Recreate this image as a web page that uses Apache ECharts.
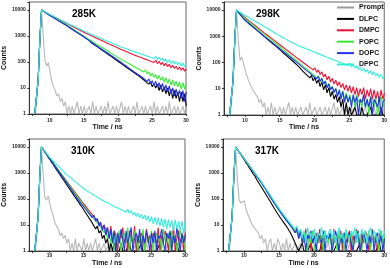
<!DOCTYPE html>
<html><head><meta charset="utf-8">
<script src="https://cdn.jsdelivr.net/npm/echarts@6/dist/echarts.min.js"></script>
<style>html,body{margin:0;padding:0;background:#fff}#c{width:390px;height:268px}</style>
</head><body><div id="c"></div>
<script>
// ---- data ----
const time = [7.8,8.05,8.3,8.55,8.8,9.05,9.3,9.55,9.8,10.05,10.3,10.55,10.8,11.05,11.3,11.55,11.8,12.05,12.3,12.55,12.8,13.05,13.3,13.55,13.8,14.05,14.3,14.55,14.8,15.05,15.3,15.55,15.8,16.05,16.3,16.55,16.8,17.05,17.3,17.55,17.8,18.05,18.3,18.55,18.8,19.05,19.3,19.55,19.8,20.05,20.3,20.55,20.8,21.05,21.3,21.55,21.8,22.05,22.3,22.55,22.8,23.05,23.3,23.55,23.8,24.05,24.3,24.55,24.8,25.05,25.3,25.55,25.8,26.05,26.3,26.55,26.8,27.05,27.3,27.55,27.8,28.05,28.3,28.55,28.8,29.05,29.3,29.55,29.8,30.05];
const seriesNames = ['Prompt','DLPC','DMPC','POPC','DOPC','DPPC'];
const temps = ['285K','298K','310K','317K'];
const xLabelValues = [10,15,20,25,30];
const xTickValues = [7.5,10,12.5,15,17.5,20,22.5,25,27.5,30];

// 285K
const k285_prompt = [1,2,30,1200,9500, 900,110,70,95,40,18,11,8,5,6,3,4,2,3,1,2, 1,2,1,1,3,1,2,1,2,1, 1,2,1,3,1,2,1,1,2,1, 2,1,3,1,1,2,1,2,1,1, 3,1,2,1,2,1,1,2,1,3, 1,1,2,1,2,1,1,2,1,3, 1,2,1,1,2,1,2,1,3,1, 1,2,1,2,1,1,2,1,2];
const k285_dlpc = [1,1,20,700,9800, 8950,8180,7220,6650,5960,5560,4950,4620,4110,3840,3420,3200,2840,2660,2360,2200,1940,1800,1590,1480,1300,1220,1060,1000, 850,820,690,670,560,545,455,440,370,360,300,292,244,238,198,192,160,156,130,127, 104,106,84,86,68,70,55,57,45,46,36,37,29,30,23,25,18,21,14,17, 11,15,10,14,8,13,7,11,6,10,5,9,4,8,4,7,3,7,3,6,2];
const k285_dmpc = [1,1,20,700,9800, 9170,8350,7780,7000,6630,6000,5680,5120,4880,4380,4180,3730,3590,3180,3080,2730,2650,2340,2280,2010,1960,1730,1690,1480, 1450,1270,1270,1100,1110,960,970,830,850,720,740,630,650,550,570,480,500,420,440,365, 390,315,345,280,310,245,275,215,245,190,220,170,195,150,175,134,158,120,142,106, 126,95,116,86,106,79,97,72,88,66,81,60,74,56,68,51,64,48,60,44,54];
const k285_popc = [1,1,20,700,9800, 9080,8200,7450,6700,6250,5650,5250,4750,4420,3980,3720,3330,3130,2790,2630,2320,2180,1910,1790,1570,1490,1290,1240,1060, 1030,870,860,720,720,600,600,490,500,410,420,340,345,285,290,235,240,195,200,160, 172,134,146,112,126,96,108,82,92,68,78,58,67,49,57,41,49,35,42,29, 37,26,33,22,30,20,27,17,25,15,22,13,20,12,18,11,17,9,16,9,14];
const k285_dopc = [1,1,20,700,9800, 9040,8100,7350,6580,6100,5540,5100,4620,4270,3860,3560,3210,2980,2680,2480,2210,2060,1800,1690,1480,1390,1210,1150,990, 960,810,785,655,645,530,530,430,435,350,355,288,292,236,240,193,198,158,162,128, 136,104,112,84,91,67,74,54,61,43,49,35,40,29,33,23,27,18,22,15, 19,12,18,11,16,9,15,8,13,7,12,6,10,5,9,5,8,4,8,3,7];
const k285_dppc = [1,1,20,700,9800, 9230,8450,7900,7150,6700,6120,5760,5250,4960,4500,4270,3860,3660,3310,3150,2870,2750,2500,2390,2180,2090,1890,1820,1640, 1600,1420,1410,1240,1250,1090,1100,960,960,840,850,740,760,650,670,580,600,510,530,450, 480,390,430,350,380,320,350,280,310,250,290,230,260,205,235,185,210,170,190,150, 175,135,165,125,150,115,140,105,130,96,120,88,110,84,102,78,96,72,90,66,80];

// 298K
const k298_prompt = [1,2,30,1200,9500, 700,120,160,95,50,30,20,14,10,9,6,5,3,4,2,3, 1,2,1,3,1,2,1,1,2,1, 2,1,1,3,1,2,1,2,1,1, 2,1,1,2,1,3,1,1,2,1, 1,2,1,1,2,1,2,1,1,3, 1,2,1,1,2,1,1,2,1,2, 1,1,3,1,2,1,1,2,1,1, 2,1,2,1,1,2,1,1,2];
const k298_dlpc = [1,1,20,700,9800, 8320,6880,5780,4740,4170,3590,3210,2750,2480,2120,1900,1620,1470,1250,1140,965,885,745,690,575,535,445,418,345, 330,262,255,200,196,152,152,116,118,88,92,66,70,47,53,35,41,26,32,20, 27,16,22,12,18,9,14,7,11,5,8,4,6,3,5,2,4,1,3,1, 2,1,1,2,1,1,1,2,1,1,1,1,2,1,1,1,1,1,2,1,1];
const k298_dmpc = [1,1,20,700,9800, 8750,7580,6700,5780,5170,4480,4080,3520,3220,2760,2540,2170,2000,1700,1580,1340,1250,1060,1000,840,800,665,640,525, 515,415,415,330,335,260,270,205,218,163,175,130,142,102,116,82,94,65,76,52, 62,42,52,35,44,28,36,22,30,18,25,15,21,13,18,11,16,9,14,8, 13,7,12,6,11,5,10,6,11,4,9,5,10,4,9,4,8,3,9,4,7];
const k298_popc = [1,1,20,700,9800, 8580,7300,6350,5350,4720,4080,3690,3180,2870,2470,2250,1930,1750,1500,1370,1170,1080,915,845,715,665,560,525,440, 410,342,325,266,255,206,200,160,158,124,126,96,100,74,80,58,63,45,50,34, 38,26,31,21,25,16,20,12,16,10,12,8,10,6,9,5,8,4,7,3, 6,3,5,2,6,3,4,2,5,2,4,1,5,3,2,4,1,3,5,2,3];
const k298_dopc = [1,1,20,700,9800, 8260,6760,5650,4600,3970,3440,3100,2670,2420,2080,1890,1620,1480,1260,1160,985,910,770,715,605,565,475,445,372, 360,290,285,226,224,176,176,138,140,108,112,84,88,65,70,50,56,40,45,30, 35,24,29,19,25,15,19,11,15,9,12,7,10,5,9,4,8,3,6,3, 5,2,6,3,5,1,4,3,6,2,4,2,5,1,4,3,2,5,1,3,4];
const k298_dppc = [1,1,20,700,9800, 9080,8200,7450,6700,6250,5650,5250,4750,4420,3980,3720,3330,3130,2800,2640,2330,2200,1950,1830,1610,1530,1330,1280,1100, 1080,930,920,790,790,670,680,575,580,490,495,425,440,375,390,330,345,295,310,262, 285,228,252,203,225,180,204,158,183,140,163,125,146,110,128,97,114,87,102,78, 94,68,84,61,76,54,68,48,60,43,54,38,49,34,43,31,39,27,36,24,31];

// 310K
const k310_prompt = [1,2,30,1200,9500, 800,110,90,130,60,35,22,12,9,7,4,5,3,4,2,3, 1,2,1,3,1,2,2,1,3,1, 2,1,2,1,1,3,1,2,1,1, 2,1,1,2,1,1,2,1,1,1, 2,1,1,1,2,1,1,1,1,2, 1,1,1,1,1,2,1,1,1,1, 1,2,1,1,1,1,1,1,2,1, 1,1,1,1,2,1,1,1,1];
const k310_dlpc = [1,1,20,700,9800, 7940,6250,5050,3920,3220,2510,2080,1610,1350,1030,875,665,568,426,370,274,242,178,160,114,106,74,68,48, 46,30,30,19,20,12,13,7,9,5,6,3,4,2,3,1,2,1,2,1, 1,1,2,1,1,1,1,2,1,1,1,1,1,1,2,1,1,1,1,1, 1,1,1,1,1,2,1,1,1,1,1,1,1,1,1,2,1,1,1,1,1];
const k310_dmpc = [1,1,20,700,9800, 8150,6550,5380,4280,3560,2860,2420,1920,1620,1290,1090,860,730,575,490,385,330,260,222,174,150,118,100,78, 72,54,50,36,35,25,25,17,18,12,13,8,10,6,8,3,9,2,6,4, 1,5,3,8,2,4,1,6,3,2,9,1,4,2,5,3,1,7,2,4, 1,5,3,2,8,1,4,2,6,3,1,5,2,9,1,3,6,2,4,1,5];
const k310_popc = [1,1,20,700,9800, 8100,6580,5300,4330,3500,2900,2350,1950,1560,1300,1040,860,685,570,455,380,300,252,198,168,132,112,88,74, 56,50,38,35,25,24,17,17,12,12,8,9,5,7,3,6,2,5,1,4, 2,6,1,3,5,2,8,1,4,2,6,3,1,5,2,7,1,3,4,2, 6,1,3,5,2,4,1,7,3,2,5,1,6,2,4,1,3,7,2,4,1];
const k310_dopc = [1,1,20,700,9800, 8050,6420,5270,4160,3510,2760,2340,1820,1550,1190,1030,780,690,510,460,330,305,215,200,138,132,92,90,60, 62,41,44,28,32,19,24,14,18,9,13,6,10,4,8,3,7,2,6,1, 5,2,7,3,1,6,2,4,8,1,3,5,2,7,1,4,2,6,3,1, 5,2,6,1,4,3,7,2,1,5,3,6,1,4,2,8,3,1,5,2,4];
const k310_dppc = [1,1,20,700,9800, 8260,6760,5650,4600,3890,3290,2890,2430,2150,1800,1600,1330,1190,980,885,755,695,590,545,462,428,362,336,282, 268,226,224,186,186,155,156,128,131,106,110,89,95,76,82,66,72,56,63,48, 56,42,50,37,44,31,40,28,36,24,31,21,28,19,26,17,24,15,22,13, 21,11,20,10,19,9,18,8,17,7,16,8,15,6,16,7,14,6,14,5,13];

// 317K
const k317_prompt = [1,2,30,1200,9500, 600,90,70,80,85,40,25,18,12,9,8,6,5,3,4,2, 3,1,2,3,1,2,1,3,2,1, 2,1,3,1,2,1,1,2,1,1, 2,1,1,1,2,1,1,1,1,2, 1,1,1,1,1,1,2,1,1,1, 1,1,1,1,1,1,1,1,2,1, 1,1,1,1,1,1,1,1,1,1, 1,1,1,2,1,1,1,1,1];
const k317_dlpc = [1,1,20,700,9800, 7940,6250,5060,3920,3170,2400,1970,1470,1220,905,755,555,468,342,290,207,176,124,106,75,64,44,39,27, 24,17,16,11,10,7,7,4,4,2,2,1,1,2,1,1,1,1,2,1, 1,1,1,1,2,1,1,1,1,1,1,1,1,2,1,1,1,1,1,1, 1,1,1,1,1,1,2,1,1,1,1,1,1,1,1,1,1,2,1,1,1];
const k317_dmpc = [1,1,20,700,9800, 8080,6460,5300,4200,3530,2790,2320,1800,1520,1160,1000,760,650,495,425,315,270,196,170,122,106,75,66,47, 43,31,29,20,20,13,13,9,9,5,8,3,6,4,2,7,3,5,1,6, 3,5,2,7,1,4,6,2,3,5,1,7,2,4,3,6,1,5,2,4, 6,1,4,2,7,3,1,5,2,6,4,1,3,7,2,5,1,4,6,2,3];
const k317_popc = [1,1,20,700,9800, 8070,6480,5260,4230,3500,2800,2290,1820,1490,1180,965,765,625,495,405,310,252,190,158,118,98,72,62,46, 38,30,25,20,17,13,11,9,8,6,5,4,6,2,3,5,1,4,2,6, 1,3,5,2,4,1,6,3,2,5,1,4,3,1,6,2,4,1,5,3, 2,5,1,3,6,2,4,1,5,2,3,6,1,4,2,5,3,1,6,2,4];
const k317_dopc = [1,1,20,700,9800, 8050,6420,5230,4180,3480,2760,2270,1780,1480,1150,955,745,620,480,400,298,248,182,155,112,96,68,60,43, 40,28,26,18,18,12,12,8,9,5,7,3,6,2,5,1,4,3,6,2, 4,1,5,3,2,6,1,4,3,5,1,2,6,3,1,4,2,5,1,3, 5,2,1,4,3,6,1,2,5,3,1,4,2,6,1,3,5,2,4,1,3];
const k317_dppc = [1,1,20,700,9800, 8090,6500,5360,4250,3600,2840,2390,1870,1580,1230,1050,810,695,535,460,342,290,212,184,132,117,82,74,52, 48,33,33,22,23,15,15,10,11,7,9,5,7,3,6,2,8,4,5,3, 7,2,5,4,8,3,6,2,5,7,3,6,2,4,8,3,5,2,7,4, 3,6,4,8,2,5,3,7,4,6,2,5,8,3,6,4,2,7,5,3,6];

// ---- chart ----
const panelData = [
  [k285_prompt,k285_dlpc,k285_dmpc,k285_popc,k285_dopc,k285_dppc],
  [k298_prompt,k298_dlpc,k298_dmpc,k298_popc,k298_dopc,k298_dppc],
  [k310_prompt,k310_dlpc,k310_dmpc,k310_popc,k310_dopc,k310_dppc],
  [k317_prompt,k317_dlpc,k317_dmpc,k317_popc,k317_dopc,k317_dppc]
];
const colors = {Prompt:'#9a9a9a', DLPC:'#000000', DMPC:'#ee1133', POPC:'#33ee33', DOPC:'#2233ee', DPPC:'#33eedd'};
const FONT = '"Liberation Sans", Arial, sans-serif';
const layout = [
  {grid:{left:22, top:2, width:164, height:112}, lm:4, ng:8.5, yg:12, title:[84,14]},
  {grid:{left:224, top:2, width:162, height:113}, lm:3, ng:7.5, yg:14.5, title:[268,14]},
  {grid:{left:21, top:139, width:164, height:112}, lm:2.5, ng:6.5, yg:12, title:[83,151]},
  {grid:{left:223, top:139, width:162, height:112}, lm:2.5, ng:7, yg:14.5, title:[267,151]}
];

const grids = [], xAxes = [], yAxes = [], series = [], graphics = [];
layout.forEach((L, gi) => {
  grids.push(Object.assign({show:true, borderColor:'#666', borderWidth:1, backgroundColor:'transparent'}, L.grid));
  xAxes.push({
    type:'value', gridIndex:gi, min:7, max:30,
    axisLine:{show:true, onZero:false, lineStyle:{color:'#333', width:1}},
    axisTick:{show:true, length:2, customValues:xTickValues, lineStyle:{color:'#333'}},
    axisLabel:{customValues:xLabelValues, fontSize:5, fontWeight:'bold', fontFamily:FONT, color:'#222', margin:L.lm},
    splitLine:{show:false},
    name:'Time / ns', nameLocation:'middle', nameGap:L.ng,
    nameTextStyle:{fontSize:7, fontWeight:'bold', fontFamily:FONT, color:'#111'}
  });
  yAxes.push({
    type:'log', logBase:10, gridIndex:gi, min:1, max:20000, interval:1,
    axisLine:{show:true, lineStyle:{color:'#333', width:1}},
    axisTick:{show:true, length:2, lineStyle:{color:'#333'}},
    axisLabel:{fontSize:5, fontWeight:'bold', fontFamily:FONT, color:'#222', margin:3.5,
      formatter: v => { const l = Math.log10(v); return Math.abs(l - Math.round(l)) < 1e-6 ? String(Math.round(v)) : ''; }},
    splitLine:{show:false},
    name:'Counts', nameLocation:'middle', nameGap:L.yg,
    nameTextStyle:{fontSize:7, fontWeight:'bold', fontFamily:FONT, color:'#111'}
  });
  panelData[gi].forEach((arr, si) => {
    const nm = seriesNames[si];
    series.push({
      type:'line', name:nm, xAxisIndex:gi, yAxisIndex:gi,
      data: time.map((t, k) => [t, arr[k]]),
      showSymbol:false, symbol:'none', silent:true, animation:false,
      lineStyle:{width:1.1, color:colors[nm], opacity: nm === 'Prompt' ? 0.7 : 1},
      itemStyle:{color:colors[nm]}
    });
  });
  graphics.push({type:'text', x:L.title[0], y:L.title[1], silent:true,
    style:{text:temps[gi], font:'bold 10px ' + FONT, fill:'#000', align:'center', verticalAlign:'middle'}});
});

const chart = echarts.init(document.getElementById('c'), null, {renderer:'canvas'});
chart.setOption({
  animation:false,
  backgroundColor:'#fff',
  grid:grids, xAxis:xAxes, yAxis:yAxes, series:series,
  graphic:graphics,
  legend:{
    data:seriesNames, orient:'vertical', left:337, top:3.5, padding:0,
    itemWidth:17, itemHeight:2, itemGap:3.4, icon:'rect', selectedMode:false,
    textStyle:{fontSize:7, fontWeight:'bold', fontFamily:FONT, color:'#111', lineHeight:8}
  }
});
</script>
</body></html>
